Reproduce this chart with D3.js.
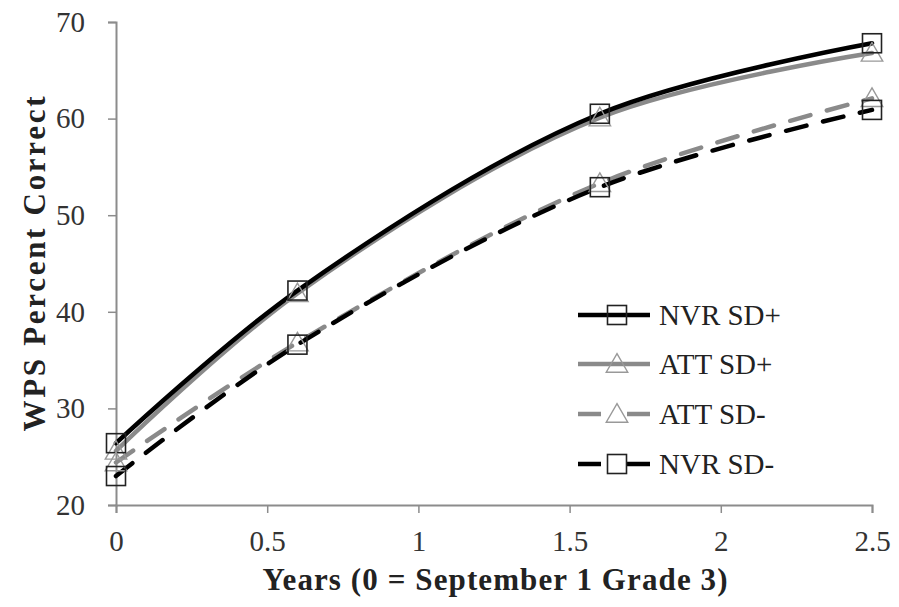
<!DOCTYPE html>
<html><head><meta charset="utf-8">
<script src="https://cdn.jsdelivr.net/npm/d3@7"></script>
<style>body{margin:0;background:#fff}svg{display:block}</style>
</head><body>
<svg id="c" width="899" height="607"></svg>
<script>
const years = [0, 0.6, 1.6, 2.5];
const nvrPlus = [26.4, 42.2, 60.5, 67.8];
const attPlus = [25.6, 41.9, 60.1, 66.8];
const attMinus = [24.4, 36.8, 53.3, 62.1];
const nvrMinus = [23.0, 36.6, 52.9, 60.9];
const seriesNames = ["NVR SD+", "ATT SD+", "ATT SD-", "NVR SD-"];
const xTicks = [0, 0.5, 1, 1.5, 2, 2.5];
const yTicks = [20, 30, 40, 50, 60, 70];

const series = [
  {name: seriesNames[0], values: nvrPlus, color: "#000", dash: null, marker: "square"},
  {name: seriesNames[1], values: attPlus, color: "#8a8a8a", dash: null, marker: "triangle"},
  {name: seriesNames[2], values: attMinus, color: "#8a8a8a", dash: "21,17", marker: "triangle"},
  {name: seriesNames[3], values: nvrMinus, color: "#000", dash: "21,17", marker: "square"}
];

const svg = d3.select("#c");
const x = d3.scaleLinear().domain([0, 2.5]).range([116, 872]);
const y = d3.scaleLinear().domain([20, 70]).range([505, 22]);
const serif = "'Liberation Serif', 'DejaVu Serif', serif";

// axes
const xAxis = svg.append("g").attr("transform", "translate(0,505)")
  .call(d3.axisBottom(x).tickValues(xTicks).tickSize(8).tickPadding(17).tickFormat(d3.format("")));
const yAxis = svg.append("g").attr("transform", "translate(116,0)")
  .call(d3.axisLeft(y).tickValues(yTicks).tickSize(8).tickPadding(23));
[xAxis, yAxis].forEach(g => {
  g.select(".domain").attr("stroke", "#8c8c8c").attr("stroke-width", 2);
  g.selectAll(".tick line").attr("stroke", "#8c8c8c").attr("stroke-width", 1.5);
  g.selectAll("text").attr("font-family", serif).attr("font-size", 29).attr("fill", "#333");
});

// lines
const line = d3.line().x((d, i) => x(years[i])).y(d => y(d)).curve(d3.curveCatmullRom.alpha(0.5));
const drawOrder = [1, 0, 2, 3];
drawOrder.forEach(k => {
  const s = series[k];
  svg.append("path").datum(s.values).attr("d", line)
    .attr("fill", "none").attr("stroke", s.color).attr("stroke-width", 4.5)
    .attr("stroke-dasharray", s.dash).attr("stroke-linecap", "round");
});

function marker(g, type, cx, cy) {
  if (type === "square") {
    g.append("rect").attr("x", cx - 9.5).attr("y", cy - 9.5).attr("width", 19).attr("height", 19)
      .attr("fill", "none").attr("stroke", "#222").attr("stroke-width", 1.6);
  } else {
    const sym = d3.symbol().type(d3.symbolTriangle).size(200);
    g.append("path").attr("d", sym()).attr("transform", `translate(${cx},${cy + 2})`)
      .attr("fill", "none").attr("stroke", "#999").attr("stroke-width", 1.4);
  }
}
drawOrder.forEach(k => {
  const s = series[k];
  s.values.forEach((v, i) => marker(svg, s.marker, x(years[i]), y(v)));
});

// legend
const legY = [315, 364, 414, 464];
series.forEach((s, i) => {
  const g = svg.append("g");
  g.append("line").attr("x1", 578).attr("x2", 650).attr("y1", legY[i]).attr("y2", legY[i])
    .attr("stroke", s.color).attr("stroke-width", 4.5)
    .attr("stroke-dasharray", s.dash ? "23,26,23" : null);
  marker(g, s.marker, 617, legY[i]);
  g.append("text").attr("x", 659).attr("y", legY[i] + 10).text(s.name)
    .attr("font-family", serif).attr("font-size", 29).attr("fill", "#222");
});

// titles
svg.append("text").attr("x", 495).attr("y", 590).attr("text-anchor", "middle")
  .attr("font-family", serif).attr("font-size", 31).attr("font-weight", "bold").attr("fill", "#222")
  .attr("textLength", 465).attr("lengthAdjust", "spacing")
  .text("Years (0 = September 1 Grade 3)");
svg.append("text").attr("transform", "translate(45,264) rotate(-90)").attr("text-anchor", "middle")
  .attr("font-family", serif).attr("font-size", 31).attr("font-weight", "bold").attr("fill", "#222")
  .attr("textLength", 335).attr("lengthAdjust", "spacing")
  .text("WPS Percent Correct");
</script>
</body></html>
